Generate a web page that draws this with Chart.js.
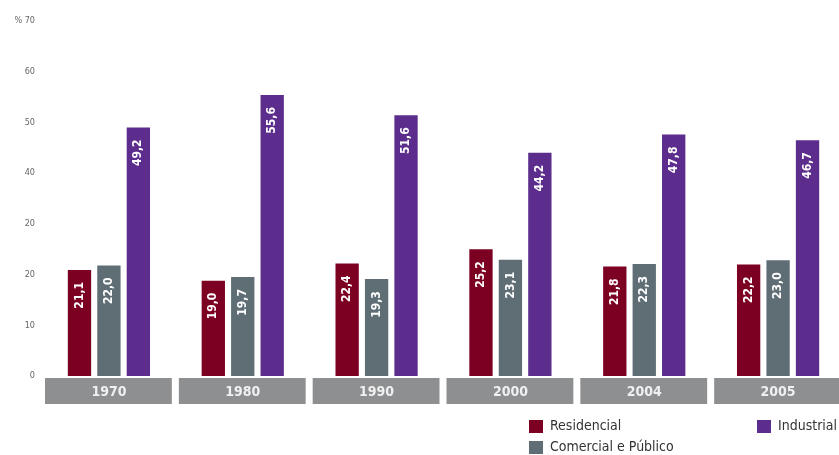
<!DOCTYPE html>
<html><head><meta charset="utf-8">
<script src="https://cdn.jsdelivr.net/npm/chart.js@4/dist/chart.umd.min.js"></script>
<style>html,body{margin:0;padding:0;background:#fff;overflow:hidden}#wrap{width:845px;height:455px;position:relative}</style>
</head><body><div id="wrap"><canvas id="c"></canvas></div>
<script>
const categories = ['1970','1980','1990','2000','2004','2005'];
const residencial = [21.1, 19.0, 22.4, 25.2, 21.8, 22.2];
const comercial = [22.0, 19.7, 19.3, 23.1, 22.3, 23.0];
const industrial = [49.2, 55.6, 51.6, 44.2, 47.8, 46.7];
const seriesNames = ['Residencial', 'Comercial e Público', 'Industrial'];
const yTickLabels = ['0','10','20','20','40','50','60','% 70'];

const NARROW = '"DejaVu Sans Condensed", "Liberation Sans Narrow", "Liberation Sans", sans-serif';
const colors = ['#7c0022', '#5f6d75', '#5c2d8d'];

const boxPlugin = {
  id: 'boxes',
  beforeDraw(chart) {
    const ctx = chart.ctx, x = chart.scales.x;
    const w = x.width / categories.length;
    ctx.save();
    ctx.fillStyle = '#8e8f91';
    categories.forEach((c, i) => {
      const cx = x.getPixelForValue(i);
      ctx.fillRect(cx - w/2 + 3, chart.chartArea.bottom + 2, w - 7, 26);
    });
    ctx.restore();
  }
};

const labelPlugin = {
  id: 'barLabels',
  afterDatasetsDraw(chart) {
    const ctx = chart.ctx;
    ctx.save();
    ctx.fillStyle = '#ffffff';
    ctx.font = 'bold 12px ' + NARROW;
    ctx.textBaseline = 'middle';
    ctx.textAlign = 'right';
    chart.data.datasets.forEach((ds, di) => {
      chart.getDatasetMeta(di).data.forEach((bar, i) => {
        const txt = ds.data[i].toFixed(1).replace('.', ',');
        ctx.save();
        ctx.translate(bar.x, bar.y + 13);
        ctx.rotate(-Math.PI/2);
        ctx.fillText(txt, 0, 0);
        ctx.restore();
      });
    });
    ctx.restore();
  }
};

const legendPlugin = {
  id: 'customLegend',
  afterDraw(chart) {
    const ctx = chart.ctx;
    const pos = [[529, 426], [529, 447], [757, 426]];
    ctx.save();
    ctx.font = '14px ' + NARROW;
    ctx.textBaseline = 'middle';
    ctx.textAlign = 'left';
    chart.data.datasets.forEach((ds, i) => {
      const [px, py] = pos[i];
      ctx.fillStyle = ds.backgroundColor;
      ctx.fillRect(px, py - 6, 14, 13);
      ctx.fillStyle = '#333';
      ctx.fillText(ds.label, px + 21, py);
    });
    ctx.restore();
  }
};

new Chart(document.getElementById('c'), {
  type: 'bar',
  data: {
    labels: categories,
    datasets: [
      { label: seriesNames[0], data: residencial, backgroundColor: colors[0] },
      { label: seriesNames[1], data: comercial, backgroundColor: colors[1] },
      { label: seriesNames[2], data: industrial, backgroundColor: colors[2] }
    ]
  },
  options: {
    responsive: true,
    maintainAspectRatio: false,
    animation: false,
    layout: { padding: { left: 0, right: 0, top: 21, bottom: 51 } },
    datasets: { bar: { categoryPercentage: 0.66, barPercentage: 0.86, borderColor: 'rgba(255,255,255,0.5)', borderWidth: 1 } },
    plugins: { legend: { display: false }, tooltip: { enabled: false } },
    scales: {
      x: {
        grid: { display: false, drawTicks: false },
        border: { display: false },
        afterFit(s) { s.height = 28; },
        ticks: { color: '#f0f0f0', font: { family: NARROW, size: 14, weight: 'bold' }, padding: 8 }
      },
      y: {
        min: 0, max: 70,
        grid: { display: false, drawTicks: false },
        border: { display: false },
        afterFit(s) { s.width = 42; },
        ticks: { stepSize: 10, color: '#666', font: { family: NARROW, size: 9 }, padding: 7,
          callback: (v, i) => yTickLabels[i] }
      }
    }
  },
  plugins: [boxPlugin, labelPlugin, legendPlugin]
});
</script></body></html>
